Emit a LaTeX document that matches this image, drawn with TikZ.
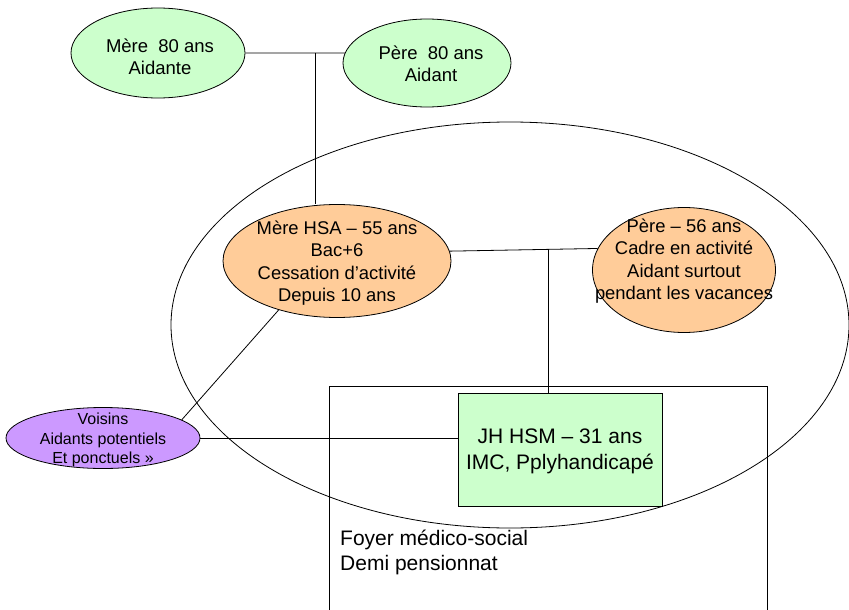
\documentclass[tikz,border=0pt]{standalone}
\usepackage{fontspec}
\setmainfont{Liberation Sans}
\usetikzlibrary{shapes.geometric}
\definecolor{vertclair}{HTML}{CCFFCC}
\definecolor{orangeclair}{HTML}{FFCC99}
\definecolor{violetclair}{HTML}{CC99FF}
\tikzset{
  lien/.style={draw=black, line width=0.8pt},
  ell/.style={ellipse, draw=black, line width=0.8pt, inner sep=0pt},
  txt/.style={align=center, inner sep=0pt, font=\fontsize{18.4}{22.5}\selectfont},
  txtgp/.style={align=center, inner sep=0pt, font=\fontsize{18.5}{21.5}\selectfont},
  txtsm/.style={align=center, inner sep=0pt, font=\fontsize{16}{19.5}\selectfont},
}
\begin{document}
\begin{tikzpicture}[x=1pt,y=-1pt]
\useasboundingbox (0,0) rectangle (849,610);

% big surrounding ellipse
\node[ell, minimum width=678, minimum height=406] (cercle) at (510,325) {};

% frame of the foyer
\draw[lien] (329,610) -- (329,386) -- (767,386) -- (767,610);
\node[anchor=base west, inner sep=0pt, font=\fontsize{21}{25}\selectfont] (foyer1) at (340,545) {Foyer médico-social};
\node[anchor=base west, inner sep=0pt, font=\fontsize{21}{25}\selectfont] (foyer2) at (340,570) {Demi pensionnat};

% grandparents
\node[ell, fill=vertclair, minimum width=174, minimum height=90] (mere80) at (158,53) {};
\node[txtgp] (tmere80) at (160,57) {Mère~~80 ans\\Aidante};
\node[ell, fill=vertclair, minimum width=168, minimum height=88] (pere80) at (427,63) {};
\node[txtgp] (tpere80) at (431,64) {Père~~80 ans\\Aidant};

% parents
\node[ell, fill=orangeclair, minimum width=228, minimum height=113] (mereHSA) at (337,261) {};
\node[txt] (tmereHSA) at (337,263) {Mère HSA – 55 ans\\Bac+6\\Cessation d’activité\\Depuis 10 ans};
\node[ell, fill=orangeclair, minimum width=183, minimum height=125] (pere56) at (684,270) {};
\node[txt] (tpere56) at (684,261) {Père – 56 ans\\Cadre en activité\\Aidant surtout\\pendant les vacances};

% young man
\node[draw=black, line width=0.8pt, fill=vertclair, minimum width=204, minimum height=113, inner sep=0pt] (jh) at (560,449.5) {};
\node[align=center, inner sep=0pt, font=\fontsize{21}{26}\selectfont] (tjh) at (560,451) {JH HSM – 31 ans\\IMC, Pplyhandicapé};

% neighbours
\node[ell, fill=violetclair, minimum width=194, minimum height=61] (vois) at (103,438) {};
\node[txtsm] (tvois) at (103,440) {Voisins\\Aidants potentiels\\Et ponctuels »};

% connectors
\coordinate (j1) at (315,53);
\coordinate (j2) at (548,250);
\draw[lien] (mere80.east) -- (pere80.173.5);
\draw[lien] (j1) -- (j1 |- mereHSA.north);
\draw[lien] (mereHSA.5.6) -- (pere56.166.9);
\draw[lien] (j2) -- (j2 |- jh.north);
\draw[lien] (vois.east) -- (vois.east -| jh.west);
\draw[lien] (vois.13) -- (mereHSA.220.7);
\end{tikzpicture}
\end{document}
